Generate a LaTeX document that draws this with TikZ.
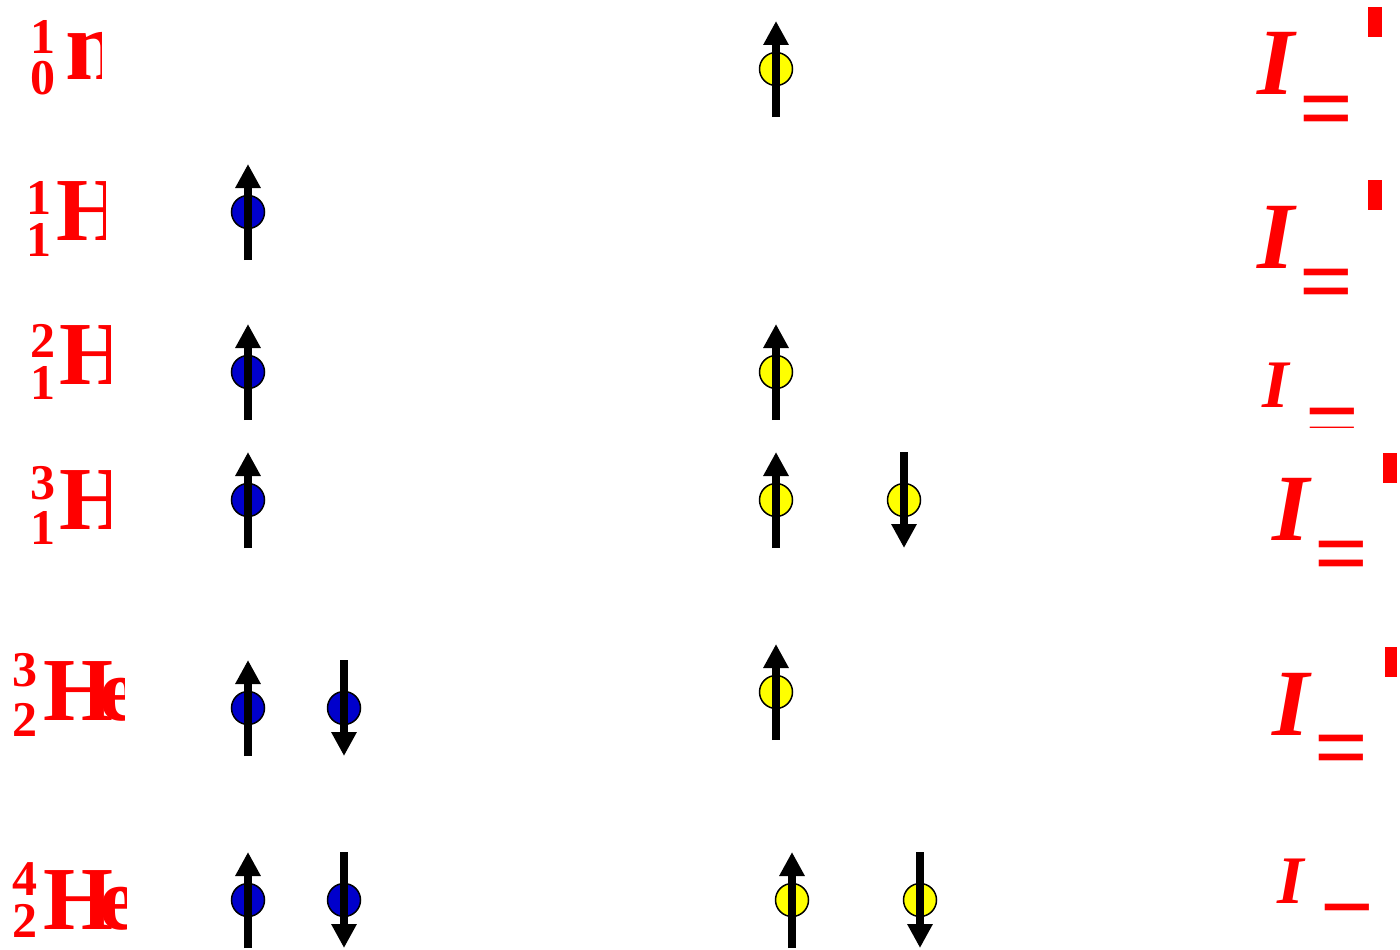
\documentclass[tikz,border=0pt]{standalone}
\usepackage{fontspec}
\setmainfont{Liberation Serif}
\usetikzlibrary{arrows.meta,calc}
\definecolor{nucred}{RGB}{255,0,0}
\definecolor{protonblue}{RGB}{0,0,204}
\definecolor{neutronyellow}{RGB}{255,255,0}

\begin{document}
\begin{tikzpicture}[x=1pt, y=-1pt,
    proton/.style={circle, draw=black, line width=1.5pt, fill=protonblue, minimum size=33pt, inner sep=0pt},
    neutron/.style={proton, fill=neutronyellow},
    spin/.style={line width=8pt, -{Triangle[width=24pt,length=24pt]}},
    digit/.style={anchor=base east, inner sep=0pt, text=nucred, font=\fontsize{50}{50}\selectfont\bfseries},
    elem/.style={anchor=base west, inner sep=0pt, text=nucred, font=\fontsize{90}{90}\selectfont\bfseries},
    spinI/.style={anchor=base west, inner sep=0pt, text=nucred, font=\fontsize{95}{95}\selectfont\bfseries\itshape},
    smallI/.style={spinI, font=\fontsize{68}{68}\selectfont\bfseries\itshape},
    equal/.style={anchor=base west, inner sep=0pt, text=nucred, font=\fontsize{95}{95}\selectfont\bfseries},
    tick/.style={fill=nucred}]
    \useasboundingbox (0,0) rectangle (1400,950);

    % nucleons with their spins
    \foreach \name/\x/\y/\kind/\dir in {n1/776/69/neutron/1, p2/248/212/proton/1,
        p3/248/372/proton/1, n3/776/372/neutron/1,
        p4/248/500/proton/1, n4a/776/500/neutron/1, n4b/904/500/neutron/-1,
        p5a/248/708/proton/1, p5b/344/708/proton/-1, n5/776/692/neutron/1,
        p6a/248/900/proton/1, p6b/344/900/proton/-1, n6a/792/900/neutron/1, n6b/920/900/neutron/-1} {
        \node[\kind] (\name) at (\x,\y) {};
        \draw[spin] ($(\name)+(0,48*\dir)$) -- ($(\name)+(0,-48*\dir)$);
    }

    % nuclide symbols
    \begin{scope}
        \clip (0,0) rectangle (101,140);
        \node[digit] (nA) at (56,54) {1};
        \node[digit] (nZ) at (56,95) {0};
        \node[elem, font=\fontsize{100}{100}\selectfont\bfseries] (nsym) at (65,80) {n};
    \end{scope}
    \begin{scope}
        \clip (0,150) rectangle (105,290);
        \node[digit] (HoneA) at (52,214) {1};
        \node[digit] (HoneZ) at (52,256) {1};
        \node[elem] (Honesym) at (56,240) {H};
    \end{scope}
    \begin{scope}
        \clip (0,300) rectangle (110,430);
        \node[digit] (HtwoA) at (56,357) {2};
        \node[digit] (HtwoZ) at (56,399) {1};
        \node[elem] (Htwosym) at (59,384) {H};
    \end{scope}
    \begin{scope}
        \clip (0,440) rectangle (110,580);
        \node[digit] (HthreeA) at (56,499) {3};
        \node[digit] (HthreeZ) at (56,544) {1};
        \node[elem] (Hthreesym) at (59,529) {H};
    \end{scope}
    \begin{scope}
        \clip (0,630) rectangle (124,770);
        \node[digit] (HethreeA) at (38,686) {3};
        \node[digit] (HethreeZ) at (38,736) {2};
        \node[elem] (Hethreesym) at (43,720) {H\kern-14pt e};
    \end{scope}
    \begin{scope}
        \clip (0,840) rectangle (126,950);
        \node[digit] (HefourA) at (38,895) {4};
        \node[digit] (HefourZ) at (38,937) {2};
        \node[elem] (Hefoursym) at (43,929) {H\kern-14pt e};
    \end{scope}

    % nuclear spin
    \node[spinI] (I1) at (1257,95) {I};
    \node[equal] (eq1) at (1299,140) {=};
    \fill[tick] (1368,7) rectangle (1382,37);

    \node[spinI] (I2) at (1257,268) {I};
    \node[equal] (eq2) at (1299,313) {=};
    \fill[tick] (1368,180) rectangle (1382,210);

    \node[smallI] (I3) at (1262,407) {I};
    \begin{scope}
        \clip (1290,400) rectangle (1370,427);
        \node[equal] (eq3) at (1305,452) {=};
    \end{scope}

    \node[spinI] (I4) at (1272,540) {I};
    \node[equal] (eq4) at (1314,585) {=};
    \fill[tick] (1383,453) rectangle (1397,483);

    \node[spinI] (I5) at (1272,735) {I};
    \node[equal] (eq5) at (1314,779) {=};
    \fill[tick] (1385,647) rectangle (1397,677);

    \node[smallI] (I6) at (1277,903) {I};
    \begin{scope}
        \clip (1300,895) rectangle (1390,913);
        \node[equal] (eq6) at (1320,948) {=};
    \end{scope}
\end{tikzpicture}
\end{document}
